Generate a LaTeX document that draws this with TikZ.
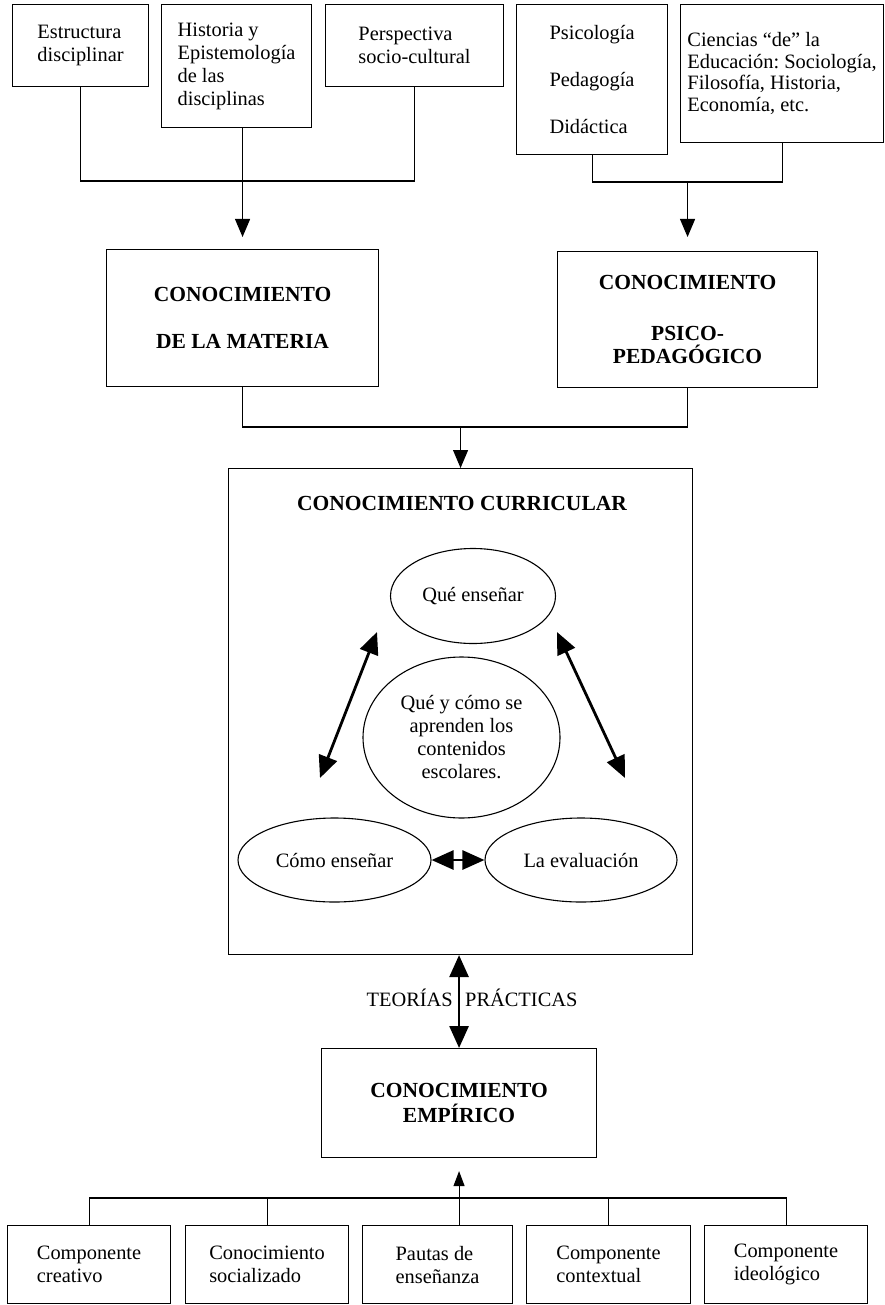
\documentclass[tikz,border=0pt]{standalone}
\usepackage{fontspec}
\setmainfont{Liberation Serif}
\usetikzlibrary{shapes.geometric,arrows.meta}
\frenchspacing
\begin{document}
\begin{tikzpicture}[x=1pt,y=-1pt,
  caja/.style={draw,line width=1.1pt,rectangle,anchor=north west,inner sep=0pt,font=\fontsize{20.4}{23}\selectfont},
  cajaizq/.style={caja,align=left},
  cajanegra/.style={caja,align=center,font=\bfseries\fontsize{21.5}{23}\selectfont},
  elipse/.style={draw,line width=1.1pt,ellipse,inner sep=0pt,align=center,font=\fontsize{20.4}{23}\selectfont},
  texto/.style={inner sep=0pt,font=\fontsize{20.4}{23}\selectfont},
  linea/.style={line width=1.1pt},
  flecha/.style={line width=1.1pt,-{Triangle[length=18pt,width=15pt]}},
  flechita/.style={line width=1.1pt,-{Triangle[length=15pt,width=11pt]}},
  dflecha/.style={line width=2.8pt,{Triangle[length=22pt,width=19pt]}-{Triangle[length=22pt,width=19pt]}}]
\useasboundingbox (0,0) rectangle (884,1305);
\node[cajaizq,minimum width=136pt,minimum height=82pt] (estr) at (12,4) {Estructura\\disciplinar};
\node[cajaizq,minimum width=150pt,minimum height=123pt] (hist) at (161,4) {Historia y\\Epistemología\\de las\\disciplinas};
\node[cajaizq,minimum width=178pt,minimum height=82pt] (persp) at (325,4) {Perspectiva\\socio-cultural};
\node[cajaizq,minimum width=151pt,minimum height=150pt] (psic) at (516,4) {Psicología\\[24pt]Pedagogía\\[24pt]Didáctica};
\node[cajaizq,minimum width=203pt,minimum height=138pt,font=\fontsize{20.4}{21.5}\selectfont] (cienc) at (680,4) {Ciencias “de” la\\Educación: Sociología,\\Filosofía, Historia,\\Economía, etc.};
\node[cajanegra,minimum width=272pt,minimum height=137pt] (dlm) at (106,249) {CONOCIMIENTO\\[24pt]DE LA MATERIA};
\node[cajanegra,minimum width=260pt,minimum height=136pt] (psico) at (557,251) {CONOCIMIENTO\\[28pt]PSICO-\\PEDAGÓGICO};
\node[caja,minimum width=464pt,minimum height=486pt] (curr) at (228,468) {};
\node[texto,font=\bfseries\fontsize{21.5}{23}\selectfont] (currtit) at (462,503) {CONOCIMIENTO CURRICULAR};
\node[elipse,minimum width=165pt,minimum height=95pt] (que) at (473,596) {Qué enseñar};
\node[elipse,minimum width=197pt,minimum height=161pt] (cent) at (461.5,737.5) {Qué y cómo se\\aprenden los\\contenidos\\escolares.};
\node[elipse,minimum width=193pt,minimum height=84pt] (como) at (334.5,860) {Cómo enseñar};
\node[elipse,minimum width=192pt,minimum height=84pt] (eval) at (581,860) {La evaluación};
\node[cajanegra,minimum width=275pt,minimum height=109pt,font=\bfseries\fontsize{21.5}{25}\selectfont] (emp) at (321,1048) {CONOCIMIENTO\\EMPÍRICO};
\node[texto,anchor=east] (teor) at (453,998) {TEORÍAS};
\node[texto,anchor=west] (prac) at (465,998) {PRÁCTICAS};
\node[cajaizq,minimum width=163pt,minimum height=78pt] (comp1) at (7,1225) {Componente\\creativo};
\node[cajaizq,minimum width=163pt,minimum height=78pt] (comp2) at (185,1225) {Conocimiento\\socializado};
\node[cajaizq,minimum width=150pt,minimum height=78pt] (comp3) at (362,1225) {Pautas de\\enseñanza};
\node[cajaizq,minimum width=164pt,minimum height=78pt] (comp4) at (526,1225) {Componente\\contextual};
\node[cajaizq,minimum width=163pt,minimum height=78pt] (comp5) at (704,1225) {Componente\\ideológico};
\coordinate (uniA) at (242,181);
\coordinate (uniB) at (680,182);
\coordinate (uniD) at (461,427);
\coordinate (uniC) at (457,1198);
\coordinate (diagA) at (377,632);
\coordinate (diagB) at (320,778);
\coordinate (diagC) at (557,632);
\coordinate (diagD) at (625,778);
\draw[linea] (estr.south) |- (uniA) -| (persp.south);
\draw[flecha,shorten >=12pt] (dlm.north |- hist.south) -- (dlm.north);
\draw[linea] (psic.south) |- (uniB) -| (cienc.south);
\draw[flecha,shorten >=14pt] (uniB -| psico.north) -- (psico.north);
\draw[linea] (dlm.south) |- (uniD) -| (psico.south);
\draw[flecha] (uniD -| curr.north) -- (curr.north);
\draw[dflecha] (diagA) -- (diagB);
\draw[dflecha] (diagC) -- (diagD);
\draw[dflecha] (como) -- (eval);
\draw[dflecha] (emp.north |- curr.south) -- (emp.north);
\draw[linea] (comp1.north) |- (uniC) -| (comp5.north);
\draw[linea] (comp2.north) -- (comp2.north |- uniC);
\draw[linea] (comp4.north) -- (comp4.north |- uniC);
\draw[flechita,shorten >=13pt] (emp.south |- comp3.north) -- (emp.south);
\end{tikzpicture}
\end{document}
